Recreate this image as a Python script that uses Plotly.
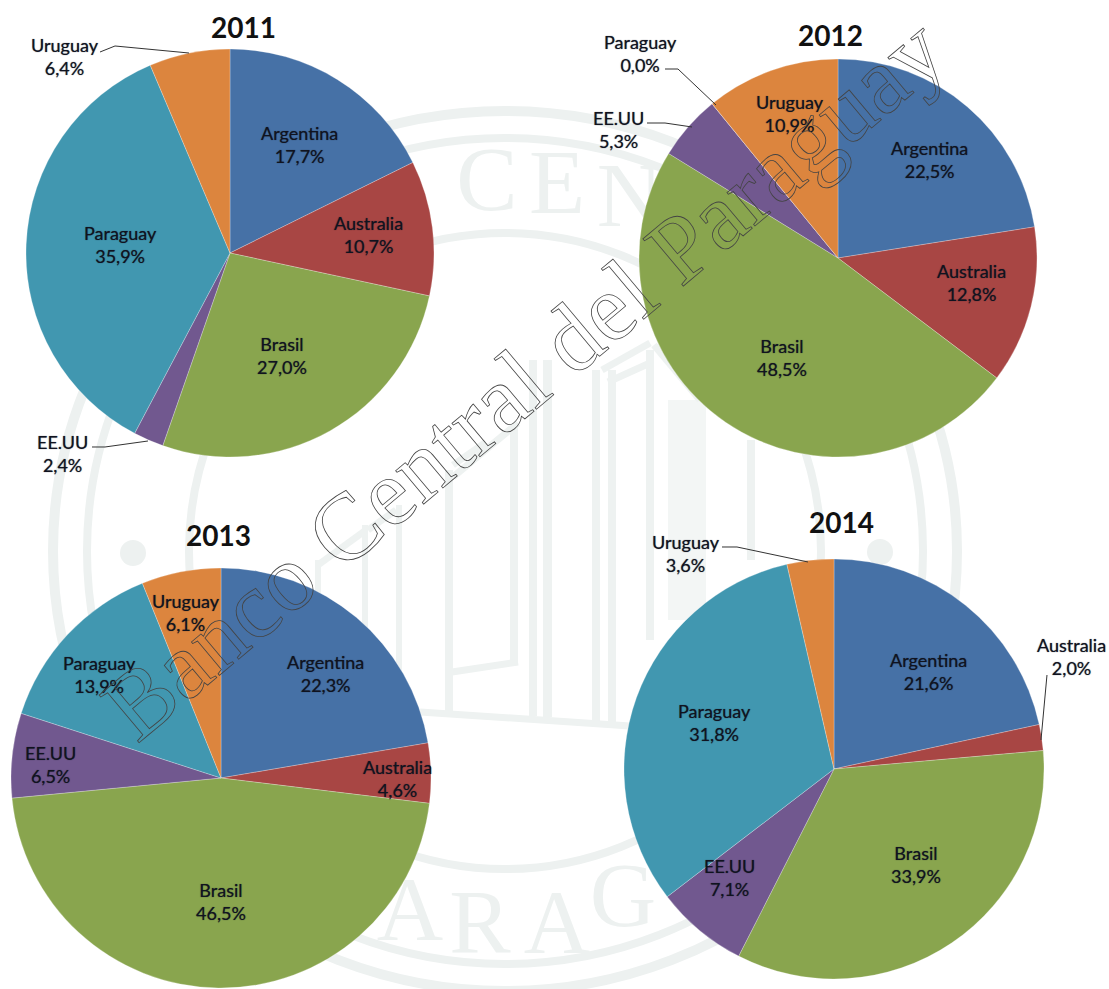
import plotly.graph_objects as go

W, H = 1109, 989

categories = ["Argentina", "Australia", "Brasil", "EE.UU", "Paraguay", "Uruguay"]
values_2011 = [17.7, 10.7, 27.0, 2.4, 35.9, 6.4]
values_2012 = [22.5, 12.8, 48.5, 5.3, 0.0, 10.9]
values_2013 = [22.3, 4.6, 46.5, 6.5, 13.9, 6.1]
values_2014 = [21.6, 2.0, 33.9, 7.1, 31.8, 3.6]
years = ["2011", "2012", "2013", "2014"]
colors = ["#4671A6", "#A84644", "#89A54E", "#71588F", "#4197B0", "#DC853E"]

series = [values_2011, values_2012, values_2013, values_2014]
# layout: pie centre x, centre y, radius in pixels
pie_boxes = [(230, 253, 204), (838, 258, 199), (221, 778, 210), (834, 769, 210)]
title_pos = [(243, 27), (830, 35), (218, 535), (841, 522)]
label_pos = [
    [(300, 144), (368, 234), (282, 355), (62, 453), (120, 245), (65, 56)],
    [(929, 159), (971, 282), (782, 358), (618, 129), (640, 53), (790, 113)],
    [(325, 673), (397, 778), (221, 901), (50, 764), (99, 674), (186, 612)],
    [(928, 671), (1071, 656), (916, 864), (729, 877), (714, 722), (686, 553)],
]
leaders = [
    [(100, 52), (115, 46), (189, 53)],
    [(92, 447), (105, 447), (148, 441)],
    [(665, 69), (678, 69), (716, 105)],
    [(647, 123), (665, 123), (692, 127)],
    [(722, 547), (737, 547), (808, 562)],
    [(1047, 675), (1041, 740)],
]
seal_letters = ["C", "E", "N", "A", "R", "A", "G"]
seal_x = [487, 557, 630, 410, 480, 557, 623]
seal_y = [187, 190, 203, 917, 930, 930, 903]
seal_rings = [(505, 551, 316, 318, 8), (505, 551, 418, 413, 8), (505, 551, 452, 440, 10)]
seal_dots = [(133, 553), (880, 552)]
seal_bars = [
    (445, 470, 453, 712), (510, 425, 518, 665), (529, 360, 537, 716), (543, 360, 552, 717),
    (592, 370, 600, 722), (608, 370, 616, 723), (646, 350, 654, 640), (747, 440, 755, 560),
    (362, 525, 368, 700), (396, 505, 402, 700), (315, 560, 321, 610),
]
seal_stripes = [(668, 400, 706, 620)]
seal_diagonals = [
    [(453, 477), (518, 423)], [(452, 672), (518, 662)], [(420, 712), (630, 726)],
    [(602, 370), (650, 343)], [(608, 382), (650, 363)],
    [(368, 530), (396, 510)], [(318, 565), (366, 530)], [(453, 465), (486, 442)],
    [(654, 345), (700, 400)],
]

fig = go.Figure()

# hidden pixel axes, drawn underneath the pies
fig.add_trace(go.Scatter(
    x=seal_x, y=seal_y, text=seal_letters, mode="text", hoverinfo="skip", showlegend=False,
    textfont=dict(family="Liberation Serif", size=92, color="#EDF1F0"),
    textposition="middle center",
))

for vals, (cx, cy, r) in zip(series, pie_boxes):
    fig.add_trace(go.Pie(
        labels=categories, values=vals, sort=False, direction="clockwise", rotation=0,
        marker=dict(colors=colors, line=dict(color="rgba(255,255,255,0.25)", width=1)),
        textinfo="none", showlegend=False,
        domain=dict(x=[(cx - r) / W, (cx + r) / W], y=[1 - (cy + r) / H, 1 - (cy - r) / H]),
    ))

annotations = []
for year, (tx, ty) in zip(years, title_pos):
    annotations.append(dict(
        x=tx / W, y=1 - ty / H, xref="paper", yref="paper", text=f"<b>{year}</b>", showarrow=False,
        xanchor="center", yanchor="middle",
        font=dict(family="Lato", size=28, color="#111111"),
    ))
for vals, positions in zip(series, label_pos):
    for name, v, (lx, ly) in zip(categories, vals, positions):
        pct = f"{v:.1f}%".replace(".", ",")
        annotations.append(dict(
            x=lx / W, y=1 - ly / H, xref="paper", yref="paper", text=f"{name}<br>{pct}", showarrow=False,
            xanchor="center", yanchor="middle",
            font=dict(family="Lato", size=18, color="#10131F", shadow="0 0 1px rgba(16,19,31,0.7)"),
            align="center",
        ))
annotations.append(dict(
    x=524 / W, y=1 - 378 / H, xref="paper", yref="paper", text="Banco Central del Paraguay",
    xanchor="center", yanchor="middle",
    showarrow=False, textangle=-40, font=dict(family="Liberation Serif", size=95, color="#444444"),
))

shapes = []
for cx, cy, rx, ry, lw in seal_rings:
    shapes.append(dict(type="circle", xref="paper", yref="paper", layer="below",
                       x0=(cx - rx) / W, x1=(cx + rx) / W, y0=1 - (cy - ry) / H, y1=1 - (cy + ry) / H,
                       line=dict(color="#EDF1F0", width=lw)))
for dx, dy in seal_dots:
    shapes.append(dict(type="circle", xref="paper", yref="paper", layer="below",
                       x0=(dx - 13) / W, x1=(dx + 13) / W, y0=1 - (dy - 13) / H, y1=1 - (dy + 13) / H,
                       fillcolor="#EDF1F0", line=dict(width=0)))
for x0, y0, x1, y1 in seal_bars:
    shapes.append(dict(type="rect", xref="paper", yref="paper", layer="below",
                       x0=x0 / W, x1=x1 / W, y0=1 - y0 / H, y1=1 - y1 / H,
                       fillcolor="#EEF2F1", line=dict(width=0)))
for x0, y0, x1, y1 in seal_stripes:
    shapes.append(dict(type="rect", xref="paper", yref="paper", layer="below",
                       x0=x0 / W, x1=x1 / W, y0=1 - y0 / H, y1=1 - y1 / H,
                       fillcolor="#F3F6F5", line=dict(width=0)))
for pts in seal_diagonals:
    (a, b), (c, d) = pts
    shapes.append(dict(type="line", xref="paper", yref="paper", layer="below",
                       x0=a / W, x1=c / W, y0=1 - b / H, y1=1 - d / H,
                       line=dict(color="#EEF2F1", width=7)))
for pts in leaders:
    path = "M " + " L ".join(f"{x / W:.5f},{1 - y / H:.5f}" for x, y in pts)
    shapes.append(dict(type="path", xref="paper", yref="paper", path=path,
                       line=dict(color="#333333", width=1)))

fig.update_layout(
    width=W, height=H, margin=dict(l=0, r=0, t=0, b=0), paper_bgcolor="white", plot_bgcolor="rgba(0,0,0,0)",
    annotations=annotations, shapes=shapes,
    xaxis=dict(visible=False, range=[0, W], domain=[0, 1], fixedrange=True),
    yaxis=dict(visible=False, range=[H, 0], domain=[0, 1], fixedrange=True),
)

post_js = """
document.body.style.margin = '0';
document.documentElement.style.overflow = 'hidden';
document.querySelectorAll('.annotation-text').forEach(function (t) {
  if (t.textContent.indexOf('Banco') === 0) {
    t.style.fill = 'none';
    t.style.stroke = '#444444';
    t.style.strokeWidth = '0.8px';
  }
});
"""
fig.write_html("out.html", post_script=post_js, config=dict(displayModeBar=False))
